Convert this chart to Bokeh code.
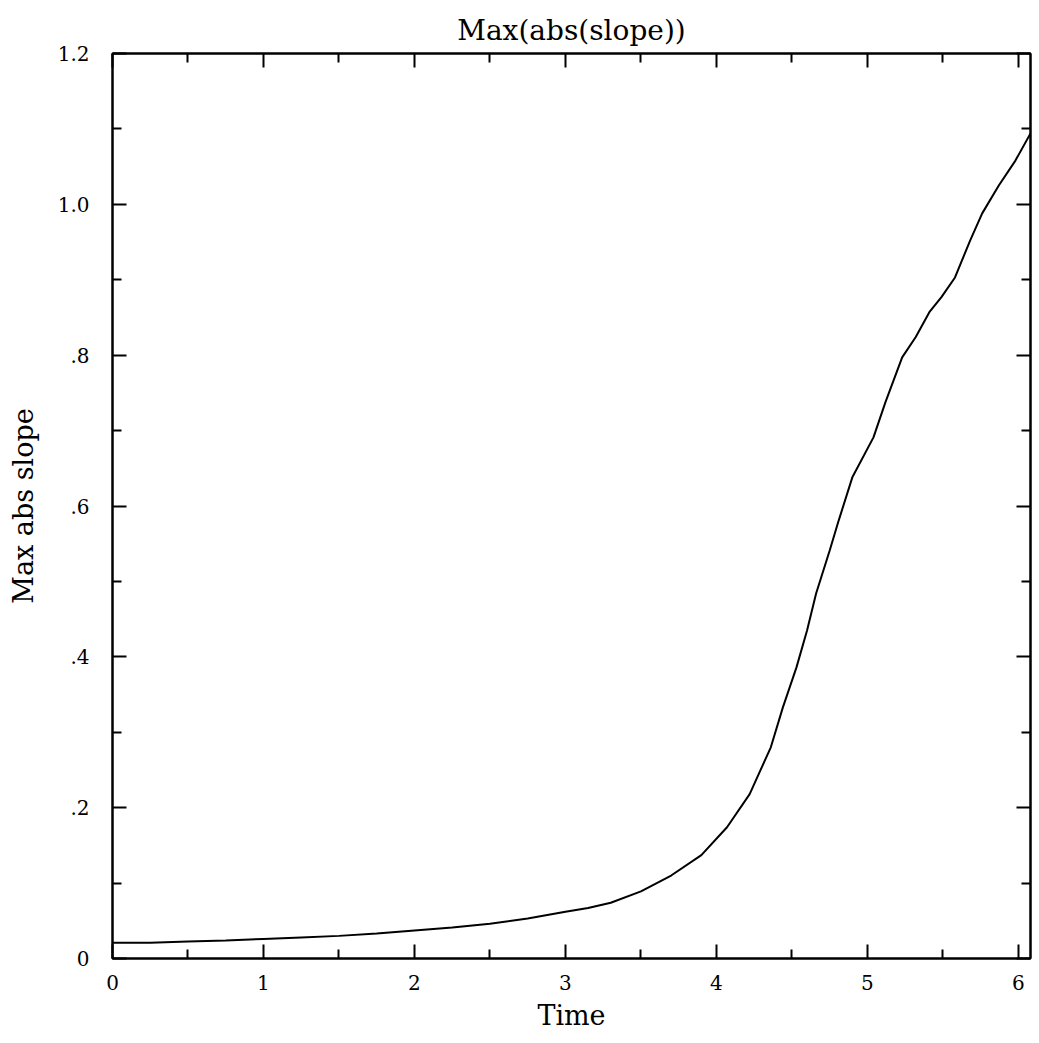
from bokeh.plotting import figure
from bokeh.models import LinearAxis, FixedTicker, Range1d
from bokeh.embed import file_html
from bokeh.resources import INLINE

# Data
time = [0.0, 0.25, 0.5, 0.75, 1.0, 1.25, 1.5, 1.75, 2.0, 2.25, 2.5, 2.75, 3.0,
        3.15, 3.3, 3.5, 3.7, 3.9, 4.07, 4.22, 4.36, 4.44, 4.53, 4.6, 4.66,
        4.75, 4.81, 4.9, 5.04, 5.12, 5.23, 5.32, 5.41, 5.49, 5.58, 5.68,
        5.76, 5.87, 5.98, 6.08]
max_abs_slope = [0.021, 0.021, 0.0225, 0.024, 0.026, 0.028, 0.030, 0.033,
                 0.037, 0.041, 0.046, 0.053, 0.062, 0.067, 0.074, 0.089,
                 0.110, 0.137, 0.174, 0.218, 0.280, 0.333, 0.386, 0.435,
                 0.484, 0.541, 0.581, 0.638, 0.691, 0.738, 0.797, 0.824,
                 0.857, 0.877, 0.903, 0.952, 0.988, 1.025, 1.058, 1.094]

x_major = [0, 1, 2, 3, 4, 5, 6]
x_minor = [0.5, 1.5, 2.5, 3.5, 4.5, 5.5]
y_major = [0, 0.2, 0.4, 0.6, 0.8, 1.0, 1.2]
y_minor = [0.1, 0.3, 0.5, 0.7, 0.9, 1.1]
y_labels = ["0", ".2", ".4", ".6", ".8", "1.0", "1.2"]

FONT = "DejaVu Serif"

p = figure(output_backend="svg", toolbar_location=None,
           frame_width=918, frame_height=905,
           x_range=Range1d(0, 6.08), y_range=Range1d(0, 1.2),
           x_axis_location=None, y_axis_location=None,
           min_border_left=112, min_border_top=53, min_border_right=2,
           min_border_bottom=70)

p.grid.visible = False
p.outline_line_color = "black"
p.outline_line_width = 2
p.background_fill_color = "white"
p.border_fill_color = "white"

p.title.text = "Max(abs(slope))"
p.title.align = "center"
p.title.vertical_align = "top"
p.title.text_font = FONT
p.title.text_font_style = "normal"
p.title.text_font_size = "28px"
p.title.text_color = "black"
p.title.standoff = 10


def style_axis(ax, show_labels):
    ax.axis_line_width = 2
    ax.axis_line_color = "black"
    ax.major_tick_in = 14
    ax.major_tick_out = 0
    ax.minor_tick_in = 9
    ax.minor_tick_out = 0
    ax.major_tick_line_width = 2
    ax.minor_tick_line_width = 2
    ax.major_label_text_font = FONT
    ax.major_label_text_font_size = "20px" if show_labels else "0px"
    ax.major_label_text_color = "black" if show_labels else None
    ax.axis_label_text_font = FONT
    ax.axis_label_text_font_style = "normal"
    ax.axis_label_text_font_size = "27px"
    ax.axis_label_text_color = "black"


xb = LinearAxis(ticker=FixedTicker(ticks=x_major, minor_ticks=x_minor),
                axis_label="Time")
style_axis(xb, True)
xb.major_label_standoff = 16
xb.axis_label_standoff = 7
p.add_layout(xb, "below")

xt = LinearAxis(ticker=FixedTicker(ticks=x_major, minor_ticks=x_minor))
style_axis(xt, False)
xt.major_label_standoff = 0
p.add_layout(xt, "above")

yl = LinearAxis(ticker=FixedTicker(ticks=y_major, minor_ticks=y_minor),
                axis_label="Max abs slope")
style_axis(yl, True)
yl.major_label_overrides = {t: s for t, s in zip(y_major, y_labels)}
yl.major_label_standoff = 23
yl.axis_label_standoff = 16
p.add_layout(yl, "left")

yr = LinearAxis(ticker=FixedTicker(ticks=y_major, minor_ticks=y_minor))
style_axis(yr, False)
yr.major_label_standoff = 0
p.add_layout(yr, "right")

p.line(time, max_abs_slope, line_color="black", line_width=2)

open("out.html", "w").write(file_html(p, INLINE))
